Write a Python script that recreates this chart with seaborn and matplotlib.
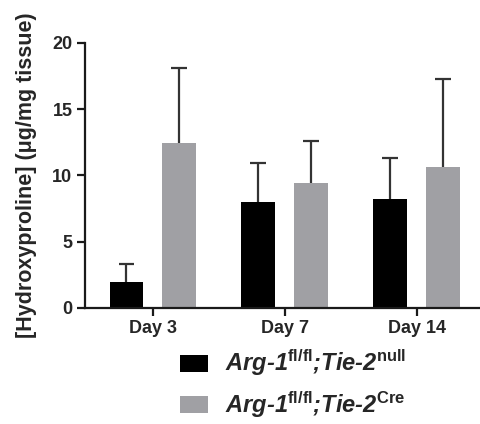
import pandas as pd
import matplotlib.pyplot as plt
import matplotlib.patches as mpatches
from matplotlib.font_manager import FontProperties
import seaborn as sns

# Data
days = ["Day 3", "Day 7", "Day 14"]
null_mean = [1.93, 7.97, 8.25]
null_sd = [1.39, 2.97, 3.02]
cre_mean = [12.45, 9.43, 10.61]
cre_sd = [5.65, 3.14, 6.67]

labels = [r"Arg-1$^{\mathrm{fl/fl}}$;Tie-2$^{\mathrm{null}}$",
          r"Arg-1$^{\mathrm{fl/fl}}$;Tie-2$^{\mathrm{Cre}}$"]
colors = ["#000000", "#a0a0a4"]

sns.set_theme(style="ticks")
plt.rcParams["font.family"] = ["Liberation Sans", "DejaVu Sans"]
plt.rcParams["mathtext.fontset"] = "custom"
plt.rcParams["mathtext.rm"] = "Liberation Sans:bold"
plt.rcParams["mathtext.it"] = "Liberation Sans:bold:italic"
plt.rcParams["mathtext.bf"] = "Liberation Sans:bold"

df = pd.DataFrame({
    "day": days * 2,
    "value": null_mean + cre_mean,
    "sd": null_sd + cre_sd,
    "group": [labels[0]] * 3 + [labels[1]] * 3,
})

fig = plt.figure(figsize=(4.8, 4.24), dpi=100)
ax = fig.add_axes([0.177, 0.274, 0.82, 0.625])

sns.barplot(data=df, x="day", y="value", hue="group", palette=colors,
            width=0.8, gap=0.36, saturation=1, errorbar=None,
            edgecolor="none", legend=False, ax=ax)

# upward-only SD bars
cap = 0.06
for bars, grp in zip(ax.containers, labels):
    sub = df[df["group"] == grp]
    for bar, m, s in zip(bars, sub["value"], sub["sd"]):
        cx = bar.get_x() + bar.get_width() / 2
        ax.vlines(cx, m, m + s, color="#333333", lw=1.6, zorder=3)
        ax.hlines(m + s, cx - cap, cx + cap, color="#333333", lw=1.6, zorder=3)

ax.set_ylim(0, 20)
ax.set_xlim(-0.515, 2.47)
ax.set_yticks([0, 5, 10, 15, 20])
ax.set_xlabel("")
ax.set_ylabel("[Hydroxyproline] (\u03bcg/mg tissue)", fontsize=15.5,
              fontweight="bold", labelpad=11)
sns.despine(ax=ax)
for sp in ["left", "bottom"]:
    ax.spines[sp].set_linewidth(1.6)
    ax.spines[sp].set_color("#1a1a1a")
ax.tick_params(axis="both", direction="out", length=6, width=1.6,
               color="#1a1a1a", labelsize=13, pad=3)
for t in ax.get_yticklabels() + ax.get_xticklabels():
    t.set_fontweight("bold")

handles = [mpatches.Patch(facecolor=c, edgecolor="none") for c in colors]
leg_font = FontProperties(family="Liberation Sans", weight="bold",
                          style="italic", size=17)
fig.legend(handles, labels, loc="upper left", bbox_to_anchor=(0.375, 0.18),
           frameon=False, prop=leg_font, handlelength=1.2, handleheight=0.72,
           handletextpad=0.7, labelspacing=0.45, borderpad=0, borderaxespad=0)

fig.savefig("out.png", dpi=100)
